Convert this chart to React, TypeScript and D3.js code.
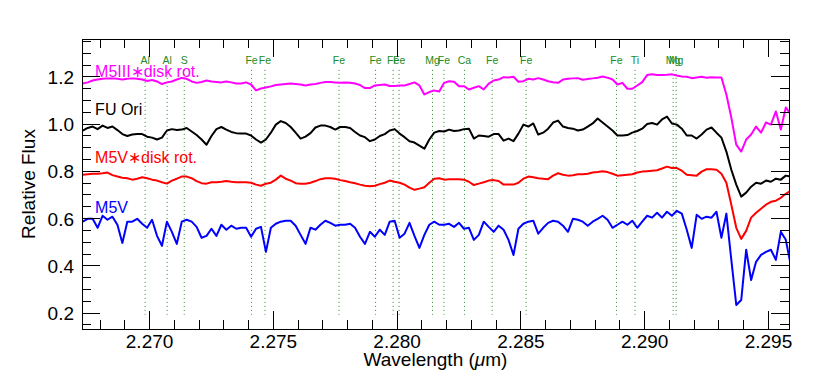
import React from "react";
import * as d3 from "d3";

// spectra sampled on a regular wavelength grid (micron)
const LAMBDA_START = 2.2673;
const LAMBDA_STEP = 0.0002;

const m5iiiRot = [
  1.172, 1.177, 1.185, 1.189, 1.192, 1.194, 1.194, 1.192, 1.189, 1.192,
  1.194, 1.192, 1.189, 1.183, 1.187, 1.181, 1.170, 1.177, 1.181, 1.189,
  1.196, 1.192, 1.181, 1.175, 1.179, 1.185, 1.181, 1.179, 1.177, 1.181,
  1.177, 1.172, 1.172, 1.177, 1.168, 1.143, 1.151, 1.155, 1.160, 1.166,
  1.168, 1.170, 1.172, 1.170, 1.168, 1.164, 1.168, 1.170, 1.175, 1.179,
  1.179, 1.177, 1.175, 1.177, 1.175, 1.172, 1.166, 1.153, 1.153, 1.164,
  1.166, 1.168, 1.162, 1.162, 1.164, 1.164, 1.170, 1.177, 1.164, 1.126,
  1.136, 1.143, 1.138, 1.175, 1.182, 1.180, 1.161, 1.161, 1.147, 1.154,
  1.161, 1.147, 1.172, 1.185, 1.189, 1.199, 1.198, 1.201, 1.180, 1.182,
  1.192, 1.189, 1.195, 1.189, 1.182, 1.178, 1.175, 1.189, 1.192, 1.194,
  1.195, 1.188, 1.191, 1.194, 1.197, 1.202, 1.197, 1.189, 1.168, 1.175,
  1.150, 1.150, 1.164, 1.178, 1.208, 1.211, 1.208, 1.208, 1.209, 1.211,
  1.206, 1.202, 1.201, 1.195, 1.198, 1.201, 1.197, 1.199, 1.198, 1.198,
  1.126, 1.028, 0.913, 0.884, 0.935, 0.956, 0.990, 0.964, 1.007, 0.998,
  1.054, 0.977, 1.071, 1.041,
];

const fuOri = [
  0.973, 0.984, 0.990, 0.979, 0.994, 0.984, 0.990, 0.975, 0.958, 0.950,
  0.956, 0.958, 0.958, 0.947, 0.943, 0.935, 0.943, 0.973, 0.979, 0.975,
  0.977, 0.984, 0.969, 0.954, 0.935, 0.913, 0.950, 0.979, 0.988, 0.977,
  0.967, 0.962, 0.960, 0.960, 0.952, 0.935, 0.922, 0.935, 0.964, 0.998,
  1.013, 1.005, 0.988, 0.964, 0.939, 0.947, 0.962, 0.986, 0.994, 0.994,
  0.988, 0.977, 0.988, 0.988, 0.984, 0.967, 0.952, 0.945, 0.928, 0.935,
  0.950, 0.958, 0.973, 0.979, 0.960, 0.945, 0.928, 0.922, 0.909, 0.896,
  0.935, 0.964, 0.971, 0.969, 0.977, 0.971, 0.973, 0.979, 0.981, 0.939,
  0.952, 0.950, 0.947, 0.958, 0.958, 0.930, 0.939, 0.928, 0.960, 0.998,
  0.990, 1.003, 0.956, 0.964, 0.981, 1.007, 1.015, 0.990, 0.984, 0.981,
  0.973, 0.977, 0.990, 1.003, 1.024, 1.007, 0.990, 0.973, 0.952, 0.952,
  0.954, 0.964, 0.971, 0.981, 1.001, 1.005, 0.998, 1.020, 1.032, 1.003,
  0.998, 0.981, 0.952, 0.952, 0.939, 0.956, 0.977, 0.986, 0.964, 0.943,
  0.884, 0.807, 0.744, 0.693, 0.710, 0.735, 0.752, 0.748, 0.761, 0.756,
  0.769, 0.765, 0.782, 0.778,
];

const m5vRot = [
  0.786, 0.788, 0.790, 0.790, 0.792, 0.795, 0.784, 0.778, 0.773, 0.771,
  0.765, 0.769, 0.775, 0.771, 0.765, 0.761, 0.754, 0.748, 0.761, 0.769,
  0.778, 0.778, 0.771, 0.759, 0.750, 0.748, 0.754, 0.754, 0.756, 0.759,
  0.756, 0.754, 0.754, 0.754, 0.752, 0.744, 0.739, 0.748, 0.752, 0.765,
  0.782, 0.769, 0.761, 0.750, 0.748, 0.748, 0.752, 0.759, 0.767, 0.771,
  0.771, 0.769, 0.763, 0.759, 0.754, 0.750, 0.744, 0.739, 0.737, 0.739,
  0.746, 0.752, 0.761, 0.756, 0.752, 0.744, 0.731, 0.722, 0.727, 0.733,
  0.752, 0.769, 0.771, 0.765, 0.767, 0.767, 0.767, 0.765, 0.756, 0.742,
  0.748, 0.754, 0.761, 0.763, 0.759, 0.744, 0.744, 0.744, 0.752, 0.769,
  0.778, 0.775, 0.771, 0.769, 0.767, 0.782, 0.792, 0.786, 0.782, 0.784,
  0.788, 0.788, 0.790, 0.795, 0.797, 0.801, 0.797, 0.790, 0.782, 0.784,
  0.786, 0.788, 0.795, 0.799, 0.801, 0.803, 0.805, 0.812, 0.820, 0.814,
  0.814, 0.803, 0.786, 0.784, 0.782, 0.799, 0.809, 0.809, 0.807, 0.790,
  0.752, 0.659, 0.561, 0.514, 0.548, 0.604, 0.625, 0.642, 0.659, 0.671,
  0.676, 0.688, 0.705, 0.718,
];

const m5v = [
  0.587, 0.599, 0.599, 0.561, 0.612, 0.595, 0.608, 0.574, 0.497, 0.587,
  0.587, 0.599, 0.578, 0.561, 0.595, 0.527, 0.485, 0.587, 0.544, 0.493,
  0.587, 0.595, 0.587, 0.565, 0.519, 0.527, 0.557, 0.527, 0.574, 0.553,
  0.570, 0.557, 0.561, 0.561, 0.523, 0.557, 0.565, 0.459, 0.561, 0.578,
  0.587, 0.591, 0.591, 0.570, 0.531, 0.493, 0.561, 0.553, 0.574, 0.591,
  0.582, 0.570, 0.574, 0.574, 0.578, 0.561, 0.523, 0.493, 0.544, 0.523,
  0.553, 0.531, 0.587, 0.591, 0.519, 0.536, 0.582, 0.527, 0.476, 0.531,
  0.574, 0.587, 0.574, 0.574, 0.578, 0.565, 0.582, 0.557, 0.561, 0.510,
  0.531, 0.587, 0.565, 0.544, 0.570, 0.553, 0.510, 0.446, 0.557, 0.578,
  0.587, 0.591, 0.536, 0.561, 0.582, 0.591, 0.587, 0.570, 0.544, 0.599,
  0.595, 0.587, 0.570, 0.587, 0.599, 0.612, 0.595, 0.561, 0.574, 0.587,
  0.574, 0.591, 0.561, 0.587, 0.612, 0.604, 0.625, 0.604, 0.629, 0.612,
  0.633, 0.621, 0.553, 0.476, 0.616, 0.599, 0.608, 0.604, 0.629, 0.519,
  0.621, 0.425, 0.234, 0.255, 0.468, 0.340, 0.417, 0.446, 0.459, 0.468,
  0.425, 0.544, 0.510, 0.404,
];

const seriesNames = ["M5III\u2217disk rot.", "FU Ori", "M5V\u2217disk rot.", "M5V"];
const seriesColors = ["#ff00ff", "#000000", "#ff0000", "#0000ff"];
const seriesData = [m5iiiRot, fuOri, m5vRot, m5v];
const labelFlux = [1.2, 1.04, 0.836, 0.624]; // baseline of each series label

// atomic lines marked in the plot
const lineNames = ["Al", "Al", "S", "Fe", "Fe", "Fe", "Fe", "Fe", "Fe", "Mg", "Fe", "Ca", "Fe", "Fe", "Fe", "Ti", "Mg", "Mg"];
const lineWaves = [
  2.26982, 2.27071, 2.2714, 2.27412, 2.27466, 2.27765, 2.27913, 2.27984, 2.28008,
  2.28143, 2.28189, 2.28272, 2.28384, 2.28521, 2.28886, 2.28961, 2.29115, 2.29127,
];

const xMajorTicks = [2.27, 2.275, 2.28, 2.285, 2.29, 2.295];
const yMajorTicks = [0.2, 0.4, 0.6, 0.8, 1.0, 1.2];

const FONT = "'Liberation Sans', Arial, Helvetica, sans-serif";
const GREEN = "#228b22";

export default function App() {
  const width = 822, height = 388;
  const left = 82, right = 789, top = 39, bottom = 329;

  const x = d3.scaleLinear().domain([2.26727, 2.29583]).range([left, right]);
  const y = d3.scaleLinear().domain([0.1323, 1.3608]).range([bottom, top]);

  const wave = (i: number) => LAMBDA_START + i * LAMBDA_STEP;
  const line = d3.line<number>()
    .x((_, i) => x(wave(i)))
    .y(d => y(d));

  const xMinor = d3.range(-2, 29)
    .filter(k => k % 5 !== 0)
    .map(k => 2.27 + k * 0.001)
    .filter(v => v > x.domain()[0] && v < x.domain()[1]);
  const yMinor = d3.range(0, 25)
    .map(k => 0.15 + k * 0.05)
    .filter(v => Math.abs(v * 5 - Math.round(v * 5)) > 1e-6);

  const fmtX = d3.format(".3f");
  const fmtY = d3.format(".1f");
  const major = 18, minor = 9;

  return (
    <svg width={width} height={height} style={{ position: "absolute", left: 0, top: 0, background: "#fff" }}
      fontFamily={FONT}>
      <defs>
        <clipPath id="plot">
          <rect x={left} y={top} width={right - left} height={bottom - top} />
        </clipPath>
      </defs>

      {/* atomic line markers */}
      {lineWaves.map((w, i) => (
        <g key={"ln" + i}>
          <line x1={x(w)} x2={x(w)} y1={y(1.23)} y2={y(0.193)}
            stroke={GREEN} strokeWidth={1} strokeDasharray="1 3" />
          <text x={x(w)} y={64} fill={GREEN} fontSize={10.5} textAnchor="middle">{lineNames[i]}</text>
        </g>
      ))}

      {/* spectra */}
      <g clipPath="url(#plot)">
        {seriesData.map((d, i) => (
          <path key={"s" + i} d={line(d) || ""} fill="none" stroke={seriesColors[i]}
            strokeWidth={2} strokeLinejoin="round" />
        ))}
      </g>

      {seriesNames.map((n, i) => (
        <text key={"lab" + i} x={x(2.2678)} y={y(labelFlux[i])} fill={seriesColors[i]} fontSize={16}>{n}</text>
      ))}

      {/* frame and ticks */}
      <g stroke="#000" strokeWidth={1} shapeRendering="crispEdges">
        <rect x={left} y={top} width={right - left} height={bottom - top} fill="none" />
        {xMajorTicks.map(t => (
          <g key={"xM" + t}>
            <line x1={x(t)} x2={x(t)} y1={bottom} y2={bottom - major} />
            <line x1={x(t)} x2={x(t)} y1={top} y2={top + major} />
          </g>
        ))}
        {xMinor.map(t => (
          <g key={"xm" + t}>
            <line x1={x(t)} x2={x(t)} y1={bottom} y2={bottom - minor} />
            <line x1={x(t)} x2={x(t)} y1={top} y2={top + minor} />
          </g>
        ))}
        {yMajorTicks.map(t => (
          <g key={"yM" + t}>
            <line x1={left} x2={left + major} y1={y(t)} y2={y(t)} />
            <line x1={right} x2={right - major} y1={y(t)} y2={y(t)} />
          </g>
        ))}
        {yMinor.map(t => (
          <g key={"ym" + t}>
            <line x1={left} x2={left + minor} y1={y(t)} y2={y(t)} />
            <line x1={right} x2={right - minor} y1={y(t)} y2={y(t)} />
          </g>
        ))}
      </g>

      {/* tick labels */}
      {xMajorTicks.map(t => (
        <text key={"xl" + t} x={x(t)} y={348} fontSize={19} textAnchor="middle" fill="#000">{fmtX(t)}</text>
      ))}
      {yMajorTicks.map(t => (
        <text key={"yl" + t} x={left - 8} y={y(t) + 7} fontSize={19} textAnchor="end" fill="#000">{fmtY(t)}</text>
      ))}

      {/* axis titles */}
      <text x={(left + right) / 2} y={366} fontSize={19} textAnchor="middle" fill="#000">
        Wavelength (<tspan fontStyle="italic">μ</tspan>m)
      </text>
      <text transform={`translate(35,${(top + bottom) / 2}) rotate(-90)`} fontSize={19}
        textAnchor="middle" fill="#000">Relative Flux</text>
    </svg>
  );
}
